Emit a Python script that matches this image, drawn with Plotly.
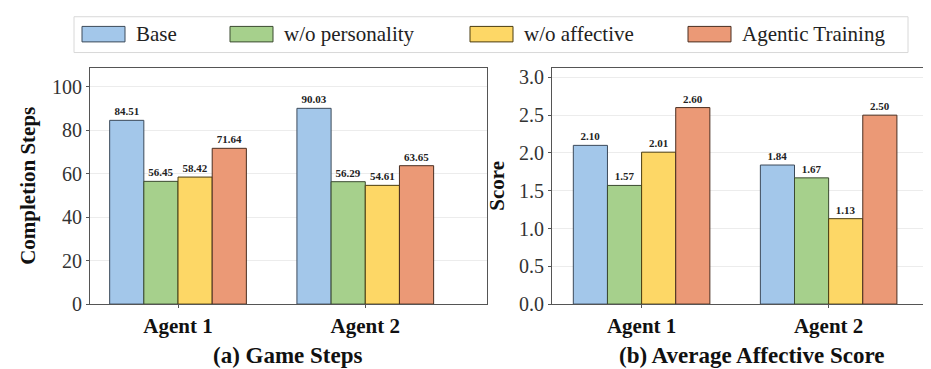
import plotly.graph_objects as go

categories = ["Agent 1", "Agent 2"]
series_names = ["Base", "w/o personality", "w/o affective", "Agentic Training"]
steps = {
    "Base": [84.51, 90.03],
    "w/o personality": [56.45, 56.29],
    "w/o affective": [58.42, 54.61],
    "Agentic Training": [71.64, 63.65],
}
scores = {
    "Base": [2.10, 1.84],
    "w/o personality": [1.57, 1.67],
    "w/o affective": [2.01, 1.13],
    "Agentic Training": [2.60, 2.50],
}
colors = ["#a3c7ea", "#a6d08c", "#fdd766", "#eb9976"]
edges = ["#3c4a5a", "#3b4a30", "#4a3c10", "#4a2e20"]
steps_ticks = [0, 20, 40, 60, 80, 100]
score_ticks = [0.0, 0.5, 1.0, 1.5, 2.0, 2.5, 3.0]

W, H = 931, 369
FONT = "Liberation Serif"

def px(x):
    return x / W

def py(y):
    return (H - y) / H

fig = go.Figure()
for i, name in enumerate(series_names):
    fig.add_trace(go.Bar(
        x=categories, y=steps[name], name=name, xaxis="x", yaxis="y",
        marker=dict(color=colors[i], line=dict(color=edges[i], width=1)),
        text=[f"<b>{v:.2f}</b>" for v in steps[name]], textposition="outside",
        textfont=dict(family=FONT, size=11, color="#222"),
        cliponaxis=False, showlegend=False, offsetgroup=str(i)))
    fig.add_trace(go.Bar(
        x=categories, y=scores[name], name=name, xaxis="x2", yaxis="y2",
        marker=dict(color=colors[i], line=dict(color=edges[i], width=1)),
        text=[f"<b>{v:.2f}</b>" for v in scores[name]], textposition="outside",
        textfont=dict(family=FONT, size=11, color="#222"),
        cliponaxis=False, showlegend=False, offsetgroup=str(i)))

ydom = [py(305), py(60.5)]
axis_common = dict(showline=True, linecolor="#555", linewidth=1.2,
                   ticks="outside", ticklen=3, tickcolor="#555")
ytickfont = dict(family=FONT, size=20, color="#333")
xtickfont = dict(family=FONT, size=21, color="#111")
cat_text = [f"<b>{c}</b>" for c in categories]

fig.update_layout(
    width=W, height=H, margin=dict(l=0, r=0, t=0, b=0),
    paper_bgcolor="white", plot_bgcolor="white",
    barmode="group", bargap=0.27, bargroupgap=0,
    uniformtext=dict(minsize=8, mode="show"),
    xaxis=dict(domain=[px(82), px(479)], range=[-0.47, 1.65], type="category",
               mirror=True, showgrid=False, tickfont=xtickfont,
               tickvals=categories, ticktext=cat_text, ticklabelstandoff=0,
               anchor="y", **axis_common),
    yaxis=dict(domain=ydom, range=[0, 108.8], tickvals=steps_ticks, mirror=True,
               showgrid=True, gridcolor="#ececec", gridwidth=1, zeroline=False,
               tickfont=ytickfont,
               title=dict(text="<b>Completion Steps</b>", font=dict(family=FONT, size=21, color="#111"), standoff=10),
               anchor="x", **axis_common),
    xaxis2=dict(domain=[px(544), 1.0], range=[-0.479, 1.59], type="category",
                mirror=True, showgrid=False, tickfont=xtickfont,
                tickvals=categories, ticktext=cat_text, ticklabelstandoff=0,
                anchor="y2", **axis_common),
    yaxis2=dict(domain=ydom, range=[0, 3.13], tickvals=score_ticks, tickformat=".1f",
                mirror=False, showgrid=True, gridcolor="#ececec", gridwidth=1, zeroline=False,
                tickfont=ytickfont,
                title=dict(text="<b>Score</b>", font=dict(family=FONT, size=21, color="#111"), standoff=8),
                anchor="x2", **axis_common),
)

# Subplot captions
fig.add_annotation(text="<b>(a) Game Steps</b>", x=px(280), y=py(358), xref="paper", yref="paper",
                   xanchor="center", yanchor="middle",
                   showarrow=False, font=dict(family=FONT, size=23, color="#111"))
fig.add_annotation(text="<b>(b) Average Affective Score</b>", x=px(743), y=py(358), xref="paper", yref="paper",
                   xanchor="center", yanchor="middle",
                   showarrow=False, font=dict(family=FONT, size=23, color="#111"))

# Custom legend (wide swatches like the reference)
fig.add_shape(type="rect", xref="paper", yref="paper", x0=px(66), x1=px(900), y0=py(45), y1=py(8),
              line=dict(color="#d8d8d8", width=1), fillcolor="white", layer="below")
leg_x = [74, 222, 462, 680]
for i, name in enumerate(series_names):
    fig.add_shape(type="rect", xref="paper", yref="paper",
                  x0=px(leg_x[i]), x1=px(leg_x[i] + 43), y0=py(34), y1=py(18),
                  line=dict(color=edges[i], width=1), fillcolor=colors[i])
    fig.add_annotation(text=name, x=px(leg_x[i] + 52), y=py(26), xref="paper", yref="paper",
                       xanchor="left", yanchor="middle", showarrow=False,
                       font=dict(family=FONT, size=21, color="#222"))

fig.write_html("out.html")
